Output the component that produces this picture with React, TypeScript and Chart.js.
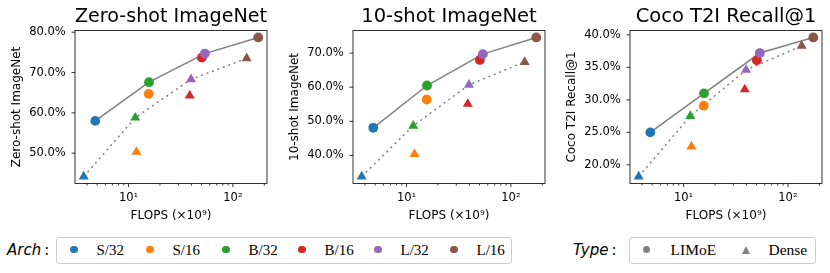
import React, { useEffect, useRef } from 'react';
import { Chart, registerables } from 'chart.js';

Chart.register(...registerables);

// ---------- data ----------
const ARCHS = ['S/32', 'S/16', 'B/32', 'B/16', 'L/32', 'L/16'];
const ARCH_COLORS = ['#1f77b4', '#ff7f0e', '#2ca02c', '#d62728', '#9467bd', '#8c564b'];
const LIMOE_FLOPS = [4.8, 15.6, 15.7, 50.4, 53.8, 175];
const DENSE_FLOPS = [3.72, 11.9, 11.6, 38.6, 39.7, 135.5];
const FRONTIER = ['S/32', 'B/32', 'L/32', 'L/16'];

const TITLES = ['Zero-shot ImageNet', '10-shot ImageNet', 'Coco T2I Recall@1'];
const ZS_LIMOE = [58.0, 64.7, 67.6, 73.7, 74.7, 78.7];
const ZS_DENSE = [44.2, 50.3, 58.8, 64.3, 68.3, 73.5];
const TS_LIMOE = [48.1, 56.4, 60.5, 68.0, 69.7, 74.6];
const TS_DENSE = [33.8, 40.4, 48.7, 55.1, 60.7, 67.4];
const COCO_LIMOE = [25.0, 29.1, 31.0, 36.1, 37.2, 39.6];
const COCO_DENSE = [18.2, 22.8, 27.5, 31.6, 34.6, 38.3];
const ZS_TICKS = [50, 60, 70, 80];
const TS_TICKS = [40, 50, 60, 70];
const COCO_TICKS = [20, 25, 30, 35, 40];
const X_MAJOR = [10, 100];
const X_MINOR = [2, 3, 4, 5, 6, 7, 8, 9, 20, 30, 40, 50, 60, 70, 80, 90, 200, 300];
const X_LABEL = 'FLOPS (×10⁹)';
const TYPES = ['LIMoE', 'Dense'];

const GRAY = '#808080';
const SANS = "'DejaVu Sans', sans-serif";
const SERIF = "'Liberation Serif', 'Times New Roman', serif";

// matplotlib-like 5% data margins
function padRange(lo: number, hi: number): [number, number] {
  const m = (hi - lo) * 0.05;
  return [lo - m, hi + m];
}

const axesFrame = {
  id: 'axesFrame',
  afterDraw(chart: any) {
    const { ctx, chartArea: a, scales } = chart;
    ctx.save();
    ctx.strokeStyle = '#000';
    ctx.lineWidth = 0.8;
    ctx.strokeRect(a.left, a.top, a.right - a.left, a.bottom - a.top);
    const xs = scales.x;
    xs.ticks.forEach((t: any) => {
      const px = xs.getPixelForValue(t.value);
      const len = X_MAJOR.includes(t.value) ? 3.5 : 2;
      ctx.beginPath();
      ctx.moveTo(px, a.bottom);
      ctx.lineTo(px, a.bottom + len);
      ctx.stroke();
    });
    const ys = scales.y;
    ys.ticks.forEach((t: any) => {
      const py = ys.getPixelForValue(t.value);
      ctx.beginPath();
      ctx.moveTo(a.left, py);
      ctx.lineTo(a.left - 3.5, py);
      ctx.stroke();
    });
    ctx.restore();
  },
};

function makeConfig(title: string, limoe: number[], dense: number[], yTicks: number[]): any {
  const limoePts = ARCHS.map((_, i) => ({ x: LIMOE_FLOPS[i], y: limoe[i] }));
  const densePts = ARCHS.map((_, i) => ({ x: DENSE_FLOPS[i], y: dense[i] }));
  const fi = FRONTIER.map((a) => ARCHS.indexOf(a));
  const ally = [...limoe, ...dense];
  const [ymin, ymax] = padRange(Math.min(...ally), Math.max(...ally));
  const allx = [...LIMOE_FLOPS, ...DENSE_FLOPS].map((v) => Math.log10(v));
  const [lxmin, lxmax] = padRange(Math.min(...allx), Math.max(...allx));
  const tickFont = { family: SANS, size: 11.5 };
  const labelFont = { family: SANS, size: 12 };
  return {
    type: 'scatter',
    data: {
      datasets: [
        {
          type: 'line',
          data: fi.map((i) => limoePts[i]),
          borderColor: GRAY,
          borderWidth: 1.5,
          pointRadius: 0,
          fill: false,
          tension: 0,
          order: 3,
        },
        {
          type: 'line',
          data: fi.map((i) => densePts[i]),
          borderColor: GRAY,
          borderWidth: 1.5,
          borderDash: [2, 3.8],
          pointRadius: 0,
          fill: false,
          tension: 0,
          order: 2,
        },
        {
          data: densePts,
          pointStyle: 'triangle',
          pointRadius: 5.8,
          backgroundColor: ARCH_COLORS,
          borderColor: ARCH_COLORS,
          borderWidth: 0,
          order: 1,
        },
        {
          data: limoePts,
          pointStyle: 'circle',
          pointRadius: 4.9,
          backgroundColor: ARCH_COLORS,
          borderColor: ARCH_COLORS,
          borderWidth: 0,
          order: 0,
        },
      ],
    },
    options: {
      responsive: false,
      animation: false,
      devicePixelRatio: 1,
      events: [],
      layout: { padding: { left: 0, right: 8, top: 0, bottom: 0 } },
      plugins: {
        legend: { display: false },
        tooltip: { enabled: false },
        title: {
          display: true,
          text: title,
          fullSize: false,
          color: '#000',
          font: { family: SANS, size: 19.5, weight: 'normal', lineHeight: 1.2 },
          padding: { top: 5.5, bottom: 1.6 },
        },
      },
      scales: {
        x: {
          type: 'logarithmic',
          min: Math.pow(10, lxmin),
          max: Math.pow(10, lxmax),
          afterFit: (s: any) => {
            s.height = 46.5;
          },
          afterBuildTicks: (s: any) => {
            s.ticks = [...X_MINOR, ...X_MAJOR]
              .sort((a, b) => a - b)
              .filter((v) => v >= s.min && v <= s.max)
              .map((v) => ({ value: v }));
          },
          grid: { display: false, drawTicks: false },
          border: { display: false },
          ticks: {
            autoSkip: false,
            maxRotation: 0,
            minRotation: 0,
            padding: 7.6,
            color: '#000',
            font: tickFont,
            callback: (v: any) => (v === 10 ? '10¹' : v === 100 ? '10²' : ''),
          },
          title: {
            display: true,
            text: X_LABEL,
            color: '#000',
            font: labelFont,
            padding: { top: 0, bottom: 6.8 },
          },
        },
        y: {
          type: 'linear',
          min: ymin,
          max: ymax,
          afterFit: (s: any) => {
            s.width = 75;
          },
          afterBuildTicks: (s: any) => {
            s.ticks = yTicks.map((v) => ({ value: v }));
          },
          grid: { display: false, drawTicks: false },
          border: { display: false },
          ticks: {
            padding: 9.3,
            color: '#000',
            font: tickFont,
            callback: (v: any) => Number(v).toFixed(1) + '%',
          },
          title: {
            display: true,
            text: title,
            color: '#000',
            font: labelFont,
            padding: { top: 10, bottom: 0 },
          },
        },
      },
    },
    plugins: [axesFrame],
  };
}

function Panel({ left, title, limoe, dense, yTicks }: any) {
  const ref = useRef<HTMLCanvasElement>(null);
  useEffect(() => {
    if (!ref.current) return;
    const chart = new Chart(ref.current, makeConfig(title, limoe, dense, yTicks));
    return () => chart.destroy();
  }, []);
  return (
    <div style={{ position: 'absolute', left, top: 0, width: 275, height: 230 }}>
      <canvas ref={ref} width={275} height={230} style={{ display: 'block', width: 275, height: 230 }} />
    </div>
  );
}

const legendBox: React.CSSProperties = {
  position: 'absolute',
  top: 237,
  height: 27,
  border: '1px solid #cccccc',
  borderRadius: 3,
  background: '#fff',
  boxSizing: 'border-box',
};

function Dot({ cx, color, r }: { cx: number; color: string; r: number }) {
  return (
    <div
      style={{
        position: 'absolute',
        left: cx - r,
        top: 249.5 - r,
        width: 2 * r,
        height: 2 * r,
        borderRadius: '50%',
        background: color,
      }}
    />
  );
}

function Tri({ cx, color }: { cx: number; color: string }) {
  return (
    <div
      style={{
        position: 'absolute',
        left: cx - 4.5,
        top: 249.5 - 4,
        width: 0,
        height: 0,
        borderLeft: '4.5px solid transparent',
        borderRight: '4.5px solid transparent',
        borderBottom: `8px solid ${color}`,
      }}
    />
  );
}

function LegendText({ x, text, size }: { x: number; text: string; size: number }) {
  return (
    <div
      style={{
        position: 'absolute',
        left: x,
        top: 239.5,
        height: 20,
        lineHeight: '20px',
        fontFamily: SERIF,
        fontSize: size,
        color: '#000',
        whiteSpace: 'nowrap',
      }}
    >
      {text}
    </div>
  );
}

function Heading({ x, text }: { x: number; text: string }) {
  return (
    <div
      style={{
        position: 'absolute',
        left: x,
        top: 239.5,
        height: 20,
        lineHeight: '20px',
        fontFamily: SANS,
        fontSize: 15,
        color: '#000',
        whiteSpace: 'nowrap',
      }}
    >
      <span style={{ fontStyle: 'italic' }}>{text}</span>
      <span>{'\u2009:'}</span>
    </div>
  );
}

export default function App() {
  return (
    <div
      style={{
        position: 'absolute',
        left: 0,
        top: 0,
        width: 830,
        height: 273,
        background: '#fff',
        overflow: 'hidden',
      }}
    >
      <Panel left={0} title={TITLES[0]} limoe={ZS_LIMOE} dense={ZS_DENSE} yTicks={ZS_TICKS} />
      <Panel left={278} title={TITLES[1]} limoe={TS_LIMOE} dense={TS_DENSE} yTicks={TS_TICKS} />
      <Panel left={555} title={TITLES[2]} limoe={COCO_LIMOE} dense={COCO_DENSE} yTicks={COCO_TICKS} />

      <Heading x={7} text="Arch" />
      <div style={{ ...legendBox, left: 56, width: 456 }} />
      {ARCHS.map((a, i) => (
        <React.Fragment key={a}>
          <Dot cx={74 + 76 * i} color={ARCH_COLORS[i]} r={3.7} />
          <LegendText x={96.5 + 76 * i} text={a} size={15} />
        </React.Fragment>
      ))}

      <Heading x={573} text="Type" />
      <div style={{ ...legendBox, left: 629, width: 187 }} />
      <Dot cx={646.5} color={GRAY} r={3.7} />
      <LegendText x={670.5} text={TYPES[0]} size={15.5} />
      <Tri cx={746.5} color={GRAY} />
      <LegendText x={768.5} text={TYPES[1]} size={15.5} />
    </div>
  );
}
